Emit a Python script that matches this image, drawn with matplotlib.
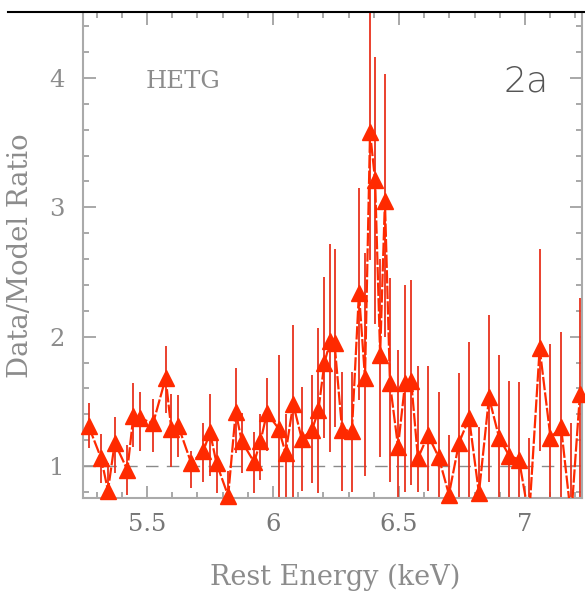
import numpy as np
import matplotlib
matplotlib.use("Agg")
import matplotlib.pyplot as plt
from matplotlib.lines import Line2D
from matplotlib.ticker import MultipleLocator

energy = [5.268, 5.318, 5.345, 5.372, 5.422, 5.446, 5.472, 5.524, 5.574, 5.596,
          5.624, 5.676, 5.724, 5.750, 5.776, 5.822, 5.852, 5.876, 5.925, 5.950,
          5.976, 6.022, 6.050, 6.080, 6.114, 6.155, 6.180, 6.204, 6.228, 6.244,
          6.274, 6.313, 6.341, 6.365, 6.385, 6.405, 6.425, 6.444, 6.464, 6.496,
          6.524, 6.548, 6.575, 6.615, 6.657, 6.698, 6.738, 6.778, 6.817, 6.857,
          6.897, 6.937, 6.976, 7.016, 7.058, 7.101, 7.143, 7.183, 7.218]
ratio = [1.31, 1.06, 0.81, 1.18, 0.97, 1.39, 1.37, 1.33, 1.68, 1.29,
         1.31, 1.02, 1.12, 1.26, 1.02, 0.77, 1.42, 1.19, 1.03, 1.19,
         1.41, 1.29, 1.10, 1.48, 1.21, 1.28, 1.43, 1.80, 1.97, 1.95,
         1.28, 1.27, 2.34, 1.68, 3.58, 3.21, 1.86, 3.05, 1.64, 1.15,
         1.64, 1.66, 1.06, 1.24, 1.07, 0.78, 1.18, 1.37, 0.79, 1.53,
         1.22, 1.08, 1.05, 0.60, 1.91, 1.22, 1.30, 0.60, 1.56]
err_low = [1.14, 0.87, 0.74, 0.95, 0.78, 1.15, 1.12, 1.11, 1.41, 0.99,
           1.07, 0.83, 0.88, 0.92, 0.79, 0.70, 1.10, 0.95, 0.79, 0.89,
           1.12, 0.75, 0.72, 0.75, 0.81, 0.87, 0.79, 1.22, 1.11, 1.30,
           0.81, 0.80, 1.51, 0.92, 2.59, 2.10, 1.07, 2.00, 0.88, 0.70,
           0.80, 0.85, 0.80, 0.81, 0.75, 0.72, 0.75, 0.72, 0.72, 0.88,
           0.70, 0.70, 0.70, 0.50, 1.12, 0.70, 0.70, 0.50, 0.70]
err_high = [1.49, 1.25, 1.02, 1.38, 1.16, 1.64, 1.57, 1.52, 1.93, 1.56,
            1.55, 1.12, 1.33, 1.56, 1.22, 0.96, 1.76, 1.41, 1.26, 1.40,
            1.68, 1.86, 1.40, 2.09, 1.61, 1.70, 2.07, 2.46, 2.72, 2.68,
            1.73, 1.73, 3.15, 2.65, 4.80, 4.16, 2.60, 4.03, 2.45, 1.90,
            2.40, 2.44, 1.77, 1.77, 1.57, 1.24, 1.72, 1.96, 1.30, 2.17,
            1.86, 1.66, 1.65, 1.22, 2.68, 1.94, 2.04, 1.33, 2.30]

xticks = [5.5, 6, 6.5, 7]
xtick_labels = ["5.5", "6", "6.5", "7"]
yticks = [1, 2, 3, 4]
ytick_labels = ["1", "2", "3", "4"]

XMIN, XMAX = 5.246, 7.226
YMIN, YMAX = 0.753, 4.51

RED = "#ff2a00"
GREY = "#8c8c8c"
SERIF = ["DejaVu Serif"]

fig = plt.figure(figsize=(5.85, 5.95), dpi=100)
ax = fig.add_axes([83/585, 1 - 498/595, (582-83)/585, (498-12)/595])

e = np.array(energy)
r = np.array(ratio)
lo = np.array(err_low)
hi = np.array(err_high)

ax.axhline(1.0, color="#8a8a8a", lw=1.0, dashes=(9, 6), zorder=1)
ax.vlines(e, lo, hi, color="#e8321e", lw=1.3, zorder=2)
ax.plot(e, r, color=RED, lw=1.6, dashes=(6, 1.0), zorder=3)
rm = np.where(r >= YMIN, r, np.nan)
ax.plot(e, rm, linestyle="none", marker="^", ms=11, color=RED,
        markeredgecolor=RED, zorder=4, clip_on=False)

ax.set_xlim(XMIN, XMAX)
ax.set_ylim(YMIN, YMAX)
ax.set_xticks(xticks)
ax.set_xticklabels(xtick_labels)
ax.set_yticks(yticks)
ax.set_yticklabels(ytick_labels)
ax.xaxis.set_minor_locator(MultipleLocator(0.1))
ax.yaxis.set_minor_locator(MultipleLocator(0.2))
ax.tick_params(which="both", direction="in", top=True, right=True,
               color="#9a9a9a", width=1.2)
ax.tick_params(which="major", length=9)
ax.tick_params(which="minor", length=4.5)
ax.tick_params(axis="y", pad=13, labelsize=17.5, labelcolor=GREY)
ax.tick_params(axis="x", pad=11, labelsize=17.5, labelcolor="#777777")
for lab in ax.get_xticklabels() + ax.get_yticklabels():
    lab.set_family(SERIF)
for s in ["left", "bottom", "right"]:
    ax.spines[s].set_color("#aaaaaa")
    ax.spines[s].set_linewidth(1.5)
ax.spines["top"].set_visible(False)

# top border line of the frame
fig.add_artist(Line2D([8/585, 1.0], [1 - 12/595, 1 - 12/595],
                      color="black", lw=1.5, transform=fig.transFigure))

ax.text(183/585, 1 - 81/595, "HETG", transform=fig.transFigure,
        ha="center", va="center", fontsize=17.5, color=GREY, family=SERIF)
ax.text(526/585, 1 - 82/595, "2a", transform=fig.transFigure,
        ha="center", va="center", fontsize=26, color="#555555",
        family=["DejaVu Sans"], fontweight="light")

fig.text(335/585, 1 - 577/595, "Rest Energy (keV)", ha="center", va="center",
         fontsize=19.5, color=GREY, family=SERIF)
fig.text(21/585, 1 - 256/595, "Data/Model Ratio", ha="center", va="center",
         rotation=90, fontsize=19.8, color=GREY, family=SERIF)

fig.savefig("out.png", dpi=100)
